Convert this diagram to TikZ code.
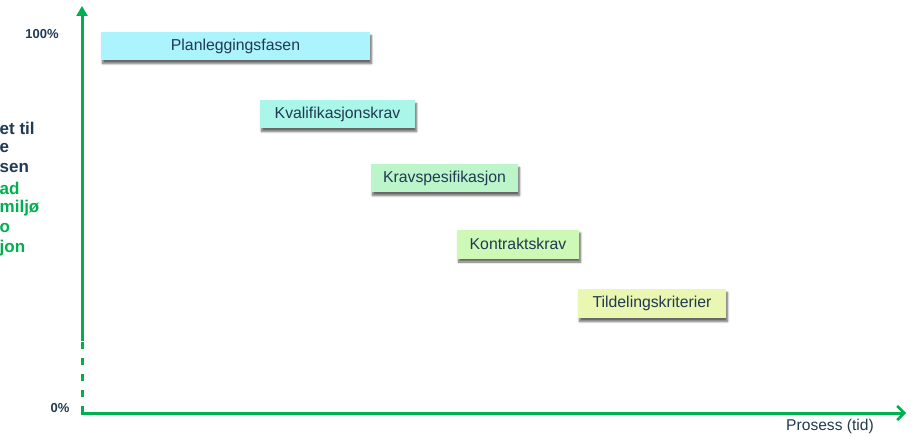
\documentclass[tikz,border=0pt]{standalone}
\usepackage{fontspec}
\setmainfont{Liberation Sans}
\usetikzlibrary{arrows.meta,shadows.blur}
\definecolor{axisgreen}{HTML}{00B050}
\definecolor{navy}{HTML}{1F3A52}
\definecolor{fillA}{HTML}{ABF3FD}
\definecolor{fillB}{HTML}{AAF6E8}
\definecolor{fillC}{HTML}{BDF5CB}
\definecolor{fillD}{HTML}{CDF8B6}
\definecolor{fillE}{HTML}{EAF7B2}
\tikzset{
  axisline/.style={draw=axisgreen, line width=3pt},
  phasebox/.style={rectangle, inner sep=0pt, text=navy, font=\fontsize{15.8}{18}\selectfont,
    blur shadow={shadow xshift=1.5pt, shadow yshift=-3.5pt, shadow blur steps=6, shadow opacity=60, shadow blur extra rounding=0pt}},
  pctlabel/.style={text=navy, font=\bfseries\fontsize{13}{15}\selectfont, inner sep=0pt},
  sidelabel/.style={font=\bfseries\fontsize{17}{19}\selectfont, inner sep=0pt, anchor=west},
}
\begin{document}
\begin{tikzpicture}[x=1pt,y=-1pt]
\useasboundingbox (0,0) rectangle (911,436);
% axes
\coordinate (O) at (82,413);
\coordinate (Ytop) at (82,6);
\coordinate (Ydash) at (82,341);
\coordinate (Xend) at (906,413);
\draw[axisline, dash pattern=on 7pt off 9pt] (O) -- (Ydash);
\draw[axisline, -{Triangle[length=10pt,width=11pt]}] (Ydash) -- (Ytop);
\draw[axisline, line cap=butt, -{Straight Barb[length=7pt,width=14pt,line width=2.6pt]}] ([xshift=-1.5pt]O) -- (Xend);
% labels
\node[pctlabel] (p100) at (42,34) {100\%};
\node[pctlabel] (p0) at (60,408) {0\%};
\node[text=navy, font=\fontsize{15.6}{18}\selectfont, inner sep=0pt] (xlab) at (830,426) {Prosess (tid)};
% left truncated text
\node[sidelabel, text=navy] (l1) at (-0.5,128) {et til};
\node[sidelabel, text=navy] (l2) at (-0.5,148) {e};
\node[sidelabel, text=navy] (l3) at (-0.5,168) {sen};
\node[sidelabel, text=axisgreen] (l4) at (-0.5,188) {ad};
\node[sidelabel, text=axisgreen] (l5) at (-0.5,208) {miljø};
\node[sidelabel, text=axisgreen] (l6) at (-0.5,228) {o};
\node[sidelabel, text=axisgreen] (l7) at (-0.5,248) {jon};
% phase boxes
\node[phasebox, fill=fillA, minimum width=269pt, minimum height=28pt] (b1) at (235.5,46) {Planleggingsfasen};
\node[phasebox, fill=fillB, minimum width=155pt, minimum height=28pt] (b2) at (337.5,114) {Kvalifikasjonskrav};
\node[phasebox, fill=fillC, minimum width=147pt, minimum height=28pt] (b3) at (444.5,178) {Kravspesifikasjon};
\node[phasebox, fill=fillD, minimum width=122pt, minimum height=29pt] (b4) at (518,244) {Kontraktskrav};
\node[phasebox, fill=fillE, minimum width=148pt, minimum height=29pt] (b5) at (652,303.5) {Tildelingskriterier};
\end{tikzpicture}
\end{document}
